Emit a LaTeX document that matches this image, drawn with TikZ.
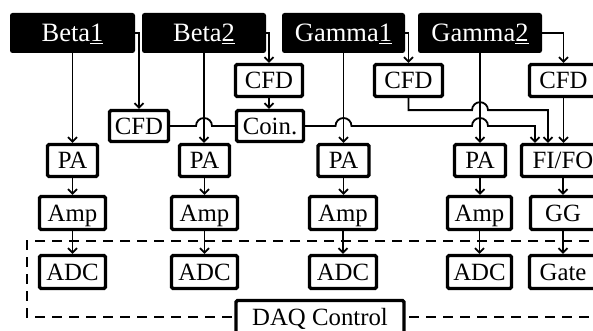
\documentclass[tikz,border=0pt]{standalone}
\usepackage{fontspec}
\setmainfont{Liberation Serif}
\usetikzlibrary{arrows.meta,calc}
\tikzset{
  lab/.style={fill=black, rounded corners=2.5pt, text=white, font=\fontsize{26.5}{30}\selectfont,
    inner sep=0pt, minimum height=40pt, text height=17.5pt, text depth=0pt},
  box/.style={draw, line width=3.3pt, rounded corners=1.5pt, fill=white, font=\fontsize{24.8}{28}\selectfont,
    inner sep=0pt, text height=16.4pt, text depth=0pt, minimum height=32pt},
  conn/.style={line width=1.8pt},
  arr/.style={conn, -{Straight Barb[length=4.5pt,width=9pt]}},
  dashbox/.style={dash pattern=on 10pt off 7pt, line width=2.6pt}
}
\begin{document}
\begin{tikzpicture}[x=1pt,y=1pt]
\useasboundingbox (0,0) rectangle (593,-331);
\clip (0,0) rectangle (593,-331);
\fill[white] (0,0) rectangle (593,-331);
% dashed DAQ region
\draw[dashbox] (640,-241) -| (27,-317) -- (640,-317);
% detector labels
\node[lab, minimum width=125pt] (b1) at (72.5,-33) {Beta\underline{1}};
\node[lab, minimum width=124pt] (b2) at (204,-33) {Beta\underline{2}};
\node[lab, minimum width=123pt] (g1) at (343.5,-33) {Gamma\underline{1}};
\node[lab, minimum width=124pt] (g2) at (480,-33) {Gamma\underline{2}};
% CFDs and coincidence
\node[box, minimum width=59pt, minimum height=31pt] (cfdA) at (139,-126) {CFD};
\node[box, minimum width=67pt] (cfdB) at (269,-80.5) {CFD};
\node[box, minimum width=67pt, minimum height=31pt] (coin) at (270,-126) {Coin.};
\node[box, minimum width=68pt] (cfdC) at (408.5,-80.5) {CFD};
\node[box, minimum width=68pt] (cfdD) at (563.5,-80.5) {CFD};
% PA row
\node[box, minimum width=50pt] (pa1) at (72.5,-160.5) {PA};
\node[box, minimum width=50pt] (pa2) at (204.5,-160.5) {PA};
\node[box, minimum width=51pt] (pa3) at (343.5,-160.5) {PA};
\node[box, minimum width=51pt] (pa4) at (480,-160.5) {PA};
\node[box, minimum width=83pt] (fifo) at (563,-160.5) {FI/FO};
% Amp row
\node[box, minimum width=66pt, minimum height=33pt] (amp1) at (72.5,-213) {Amp};
\node[box, minimum width=66pt, minimum height=33pt] (amp2) at (204.5,-213) {Amp};
\node[box, minimum width=67pt, minimum height=33pt] (amp3) at (343,-213) {Amp};
\node[box, minimum width=64pt, minimum height=33pt] (amp4) at (479.5,-213) {Amp};
\node[box, minimum width=65pt, minimum height=33pt] (gg) at (563,-213) {GG};
% ADC row
\node[box, minimum width=66pt, minimum height=33pt] (adc1) at (72.5,-272) {ADC};
\node[box, minimum width=66pt, minimum height=33pt] (adc2) at (204.5,-272) {ADC};
\node[box, minimum width=67pt, minimum height=33pt] (adc3) at (343,-272) {ADC};
\node[box, minimum width=64pt, minimum height=33pt] (adc4) at (479.5,-272) {ADC};
\node[box, minimum width=67pt, minimum height=33pt] (gate) at (563,-272) {Gate};
% DAQ control
\node[box, minimum width=168pt, minimum height=34pt] (daq) at (320,-317.5) {DAQ Control};
% vertical chains
\foreach \a/\b in {b1/pa1, b2/pa2, g1/pa3, g2/pa4, pa1/amp1, pa2/amp2, pa3/amp3, pa4/amp4,
  amp1/adc1, amp2/adc2, amp3/adc3, amp4/adc4, fifo/gg, gg/gate, cfdB/coin, cfdD/fifo}
  \draw[arr] (\a.south) -- (\a.south |- \b.north);
% branches to CFDs
\draw[arr] (b1.east) -| (cfdA.north);
\draw[arr] (b2.east) -| (cfdB.north);
\draw[arr] (g1.east) -| (cfdC.north);
\draw[arr] (g2.east) -| (cfdD.north);
% CFD -> Coin with hop
\draw[conn] (cfdA.east) -- ($(b2.south |- cfdA.east)+(-8,0)$) arc[start angle=180,end angle=0,radius=8] -- (coin.west);
% Coin -> FI/FO
\coordinate (inA) at ($(fifo.north)+(-28,0)$);
\coordinate (inB) at ($(fifo.north)+(-15,0)$);
\coordinate (k) at ($(cfdC.south)+(0,-12)$);
\draw[arr] (coin.east) -- ($(g1.south |- coin.east)+(-8,0)$) arc[start angle=180,end angle=0,radius=8]
  -- ($(g2.south |- coin.east)+(-8,0)$) arc[start angle=180,end angle=0,radius=8]
  -- (inA |- coin.east) -- (inA);
\draw[arr] (cfdC.south) -- (k) -- ($(g2.south |- k)+(-8,0)$) arc[start angle=180,end angle=0,radius=8]
  -- (inB |- k) -- (inB);
\end{tikzpicture}
\end{document}
